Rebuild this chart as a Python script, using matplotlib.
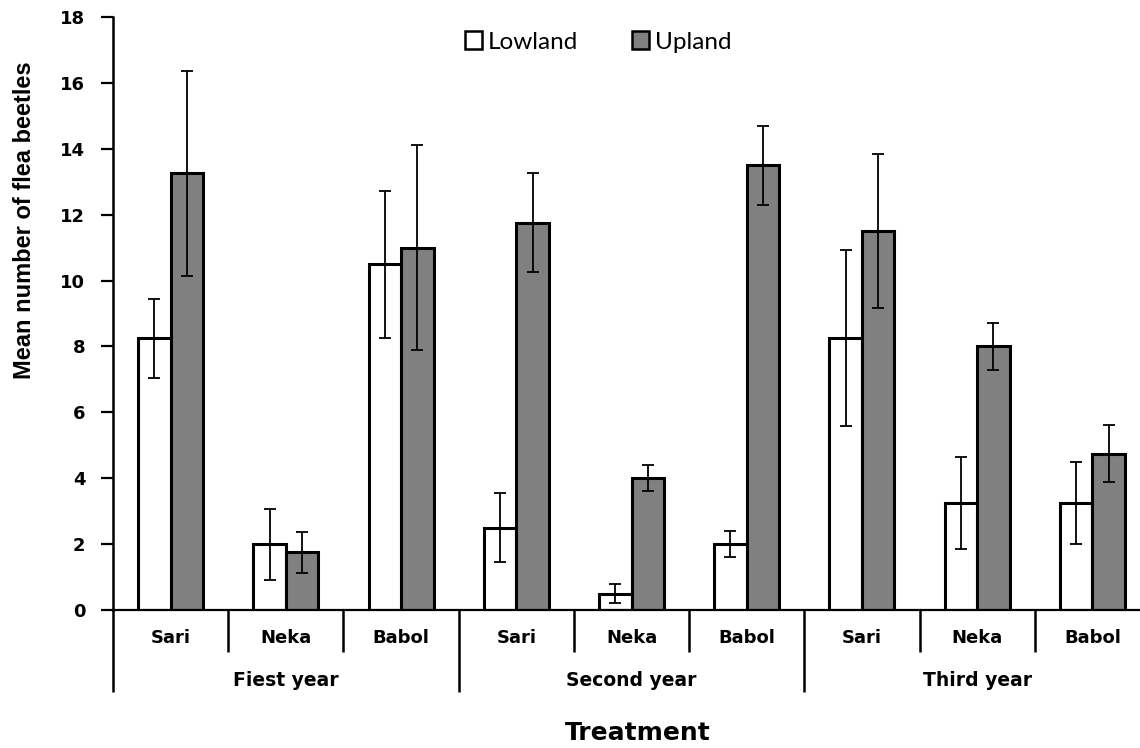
import matplotlib
matplotlib.use("Agg")
import matplotlib.pyplot as plt
import numpy as np

# Flea beetle counts per site and year
sites = ["Sari", "Neka", "Babol", "Sari", "Neka", "Babol", "Sari", "Neka", "Babol"]
years = ["Fiest year", "Second year", "Third year"]
lowland = [8.25, 2.0, 10.5, 2.5, 0.5, 2.0, 8.25, 3.25, 3.25]
lowland_err = [1.2, 1.08, 2.23, 1.04, 0.3, 0.4, 2.68, 1.4, 1.24]
upland = [13.25, 1.75, 11.0, 11.75, 4.0, 13.5, 11.5, 8.0, 4.75]
upland_err = [3.1, 0.63, 3.1, 1.5, 0.4, 1.2, 2.33, 0.7, 0.86]
yticks = [0, 2, 4, 6, 8, 10, 12, 14, 16, 18]

W, H = 1140, 748
fig = plt.figure(figsize=(W / 100, H / 100), dpi=100)
ax = fig.add_axes([113 / W, (H - 610) / H, (1150 - 113) / W, (610 - 17) / H])

x = np.arange(len(sites))
bw = 0.282

ax.bar(x - bw, lowland, bw, align="edge", color="white", edgecolor="black",
       linewidth=2.2, label="Lowland", zorder=2)
ax.bar(x, upland, bw, align="edge", color="#808080", edgecolor="black",
       linewidth=2.2, label="Upland", zorder=2)
ax.errorbar(x - bw / 2, lowland, yerr=lowland_err, fmt="none", ecolor="black",
            elinewidth=1.3, capsize=4.5, capthick=1.3, zorder=3)
ax.errorbar(x + bw / 2, upland, yerr=upland_err, fmt="none", ecolor="black",
            elinewidth=1.3, capsize=4.5, capthick=1.3, zorder=3)

ax.set_xlim(-0.5, len(sites) - 0.5)
ax.set_ylim(0, 18)
ax.set_yticks(yticks)
ax.set_yticklabels([str(t) for t in yticks], fontsize=13, fontweight="bold",
                   family="DejaVu Sans")
ax.tick_params(axis="y", direction="out", length=9, width=1.6, pad=11)
ax.set_xticks([])

for side in ("top", "right"):
    ax.spines[side].set_visible(False)
ax.spines["left"].set_linewidth(1.8)
ax.spines["bottom"].set_linewidth(1.6)

# Two-level category axis below the plot
tr = ax.get_xaxis_transform()
inner_bottom = -(652 - 610) / 593
outer_bottom = -(692 - 610) / 593
for i in range(len(sites) + 1):
    xb = i - 0.5
    ybot = outer_bottom if i % 3 == 0 else inner_bottom
    ax.plot([xb, xb], [0, ybot], transform=tr, color="black", lw=1.8,
            clip_on=False, solid_capstyle="butt")
for i, s in enumerate(sites):
    ax.text(i, -(638 - 610) / 593, s, transform=tr, ha="center", va="center",
            fontsize=13, fontweight="bold", family="DejaVu Sans")
for j, yr in enumerate(years):
    ax.text(3 * j + 1, -(680 - 610) / 593, yr, transform=tr, ha="center",
            va="center", fontsize=13.5, fontweight="bold", family="DejaVu Sans")

fig.text(638 / W, 1 - 733 / H, "Treatment", ha="center",
         va="center", fontsize=18, fontweight="bold", family="DejaVu Sans")
fig.text(25 / W, 1 - 220 / H, "Mean number of flea beetles", rotation=90,
         ha="center", va="center", fontsize=17, fontweight="bold",
         family=["Liberation Sans Narrow", "Liberation Sans", "DejaVu Sans"])

leg = ax.legend(loc="center", bbox_to_anchor=(598 / W, 1 - 42 / H),
                bbox_transform=fig.transFigure, ncol=2, frameon=False,
                handlelength=0.7, handleheight=0.7, handletextpad=0.25,
                columnspacing=2.2, prop={"family": "Lato", "size": 17.5})
for p in leg.get_patches():
    p.set_linewidth(1.8)

fig.savefig("out.png", dpi=100)
